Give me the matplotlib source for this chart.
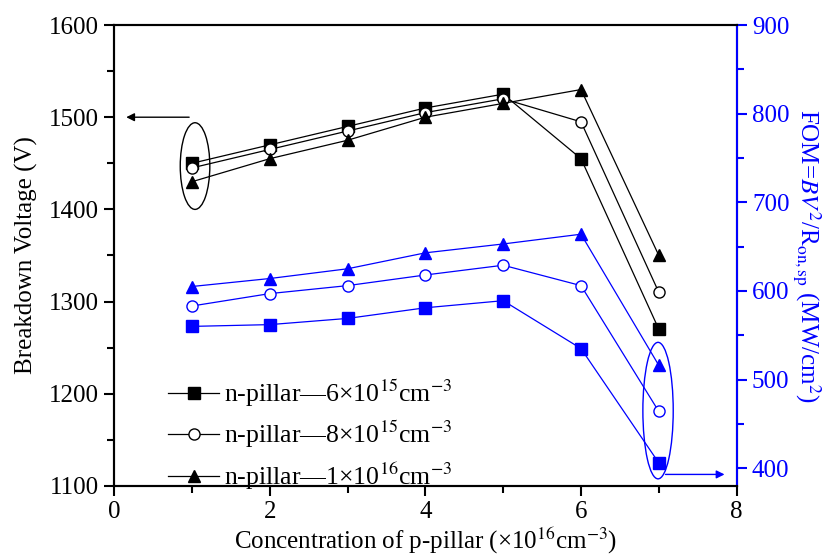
import matplotlib
matplotlib.use("Agg")
import matplotlib.pyplot as plt
from matplotlib.patches import Ellipse

plt.rcParams['font.family'] = ['Liberation Serif', 'DejaVu Serif']
plt.rcParams['mathtext.fontset'] = 'stix'

x = [1, 2, 3, 4, 5, 6, 7]
bv_6e15 = [1450, 1470, 1490, 1510, 1525, 1455, 1270]
bv_8e15 = [1445, 1465, 1485, 1505, 1520, 1495, 1310]
bv_1e16 = [1430, 1455, 1475, 1500, 1515, 1530, 1350]
fom_6e15 = [560, 562, 569, 581, 589, 535, 406]
fom_8e15 = [583, 597, 606, 618, 629, 606, 464]
fom_1e16 = [605, 614, 625, 643, 653, 664, 516]
labels = [r"n-pillar—6×10$^{15}$cm$^{-3}$",
          r"n-pillar—8×10$^{15}$cm$^{-3}$",
          r"n-pillar—1×10$^{16}$cm$^{-3}$"]

fig = plt.figure(figsize=(8.39, 5.56), dpi=100)
ax = fig.add_axes([0.136, 0.126, 0.742, 0.829])
ax2 = ax.twinx()

fs = 18
ms = 8
lw = 0.9
ax.plot(x, bv_6e15, '-', color='black', marker='s', ms=ms, lw=lw, label=labels[0])
ax.plot(x, bv_8e15, '-', color='black', marker='o', ms=ms, lw=lw, mfc='white', label=labels[1])
ax.plot(x, bv_1e16, '-', color='black', marker='^', ms=ms+1, lw=lw, label=labels[2])

blue = '#0000ff'
ax2.plot(x, fom_6e15, '-', color=blue, marker='s', ms=ms, lw=lw)
ax2.plot(x, fom_8e15, '-', color=blue, marker='o', ms=ms, lw=lw, mfc='white')
ax2.plot(x, fom_1e16, '-', color=blue, marker='^', ms=ms+1, lw=lw)

ax.set_xlim(0, 8)
ax.set_ylim(1100, 1600)
ax2.set_ylim(380, 900)
ax.set_xticks([0, 2, 4, 6, 8])
ax.set_xticks([1, 3, 5, 7], minor=True)
ax.set_yticks([1100, 1200, 1300, 1400, 1500, 1600])
ax.set_yticks([1150, 1250, 1350, 1450, 1550], minor=True)
ax2.set_yticks([400, 500, 600, 700, 800, 900])
ax2.set_yticks([450, 550, 650, 750, 850], minor=True)

for a in (ax, ax2):
    for s in a.spines.values():
        s.set_linewidth(1.5)
ax.tick_params(axis='both', which='major', direction='out', length=7.5, width=1.5, labelsize=fs, top=False, right=False)
ax.tick_params(axis='both', which='minor', direction='out', length=5, width=1.5, top=False, right=False)
ax2.tick_params(axis='y', which='major', direction='out', length=7.5, width=1.5, labelsize=fs, colors=blue)
ax2.tick_params(axis='y', which='minor', direction='out', length=5, width=1.5, colors=blue)
ax2.spines['right'].set_color(blue)

ax.set_xlabel(r"Concentration of p-pillar (×10$^{16}$cm$^{-3}$)", fontsize=fs, labelpad=2)
ax.set_ylabel("Breakdown Voltage (V)", fontsize=fs, labelpad=8)
ax2.set_ylabel(r"FOM=$BV^2$/R$_{\rm on,sp}$ (MW/cm$^2$)", fontsize=fs, color=blue, rotation=-90, labelpad=24)

ax.legend(loc='lower left', bbox_to_anchor=(0.07, -0.035), frameon=False, fontsize=18.5,
          handlelength=2.0, handletextpad=0.2, labelspacing=0.4, borderaxespad=0)

ax.add_patch(Ellipse((1.04, 1447), 0.38, 94, fill=False, lw=1, color='black'))
ax.annotate('', xy=(0.12, 1500), xytext=(1.0, 1500),
            arrowprops=dict(arrowstyle='-|>', color='black', lw=1, mutation_scale=12))
ax2.add_patch(Ellipse((6.99, 465), 0.39, 154, fill=False, lw=1, color=blue))
ax2.annotate('', xy=(7.88, 393), xytext=(7.05, 393),
             arrowprops=dict(arrowstyle='-|>', color=blue, lw=1, mutation_scale=12))

fig.savefig('out.png', dpi=100)
